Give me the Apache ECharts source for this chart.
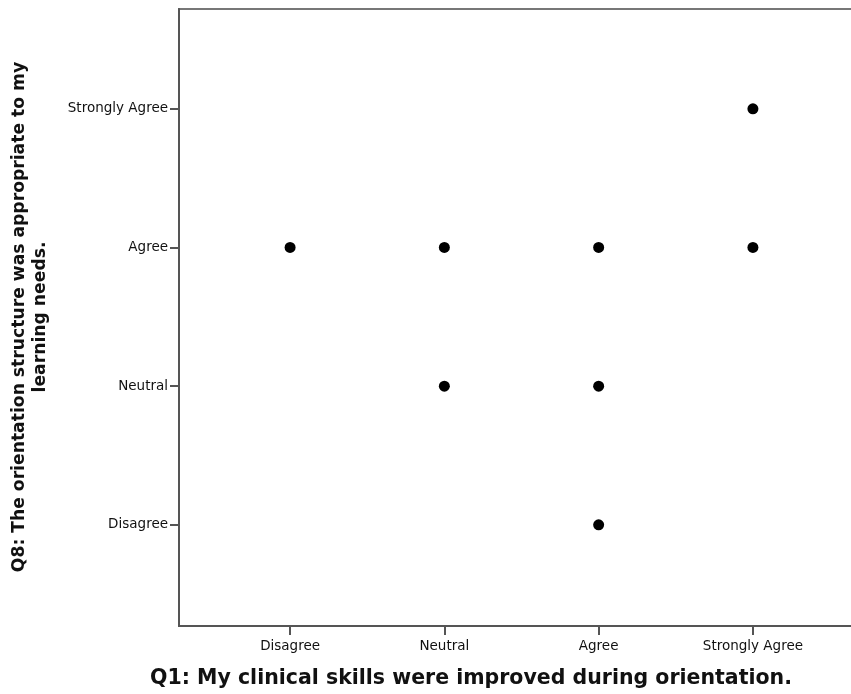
<!DOCTYPE html>
<html>
<head>
<meta charset="utf-8">
<script src="https://cdn.jsdelivr.net/npm/echarts@6/dist/echarts.min.js"></script>
<style>html,body{margin:0;padding:0;background:#fff;}#chart{width:851px;height:694px;}</style>
</head>
<body>
<div id="chart"></div>
<script>
const categories = ['Disagree', 'Neutral', 'Agree', 'Strongly Agree'];
const tickValues = [1, 2, 3, 4];
const q1Values = [4, 1, 2, 3, 4, 2, 3, 3];
const q8Values = [4, 3, 3, 3, 3, 2, 2, 1];
const xTitle = 'Q1: My clinical skills were improved during orientation.';
const yTitle = 'Q8: The orientation structure was appropriate to my\nlearning needs.';

const points = q1Values.map((v, i) => [v, q8Values[i]]);
const chart = echarts.init(document.getElementById('chart'));
const labelStyle = {color: '#111', fontFamily: 'DejaVu Sans', fontSize: 13.5};
chart.setOption({
  animation: false,
  backgroundColor: '#fff',
  grid: {left: 179, top: 9, width: 685, height: 617, outerBoundsMode: 'none', containLabel: false,
         show: true, borderColor: '#777', borderWidth: 2, backgroundColor: 'transparent'},
  xAxis: {
    type: 'value', min: 0.28, max: 4.72,
    splitLine: {show: false},
    axisLine: {lineStyle: {color: '#555', width: 2}},
    axisTick: {show: true, length: 9, customValues: tickValues, lineStyle: {color: '#555', width: 2}},
    axisLabel: Object.assign({customValues: tickValues, margin: 13, formatter: v => categories[Math.round(v) - 1]}, labelStyle)
  },
  yAxis: {
    type: 'value', min: 0.27, max: 4.72,
    splitLine: {show: false},
    axisLine: {lineStyle: {color: '#555', width: 2}},
    axisTick: {show: true, length: 9, customValues: tickValues, lineStyle: {color: '#555', width: 2}},
    axisLabel: Object.assign({customValues: tickValues, margin: 11, formatter: v => categories[Math.round(v) - 1]}, labelStyle)
  },
  series: [{
    type: 'scatter',
    data: points,
    symbol: 'circle',
    symbolSize: 11,
    itemStyle: {color: '#000', opacity: 1}
  }],
  graphic: [
    {type: 'text', position: [471, 679],
     style: {text: xTitle, fill: '#111', font: 'bold 20.5px "DejaVu Sans"', textAlign: 'center', textVerticalAlign: 'middle'}},
    {type: 'text', position: [30, 317], rotation: Math.PI / 2,
     style: {text: yTitle, fill: '#111', font: 'bold 17.2px "DejaVu Sans"', textAlign: 'center', textVerticalAlign: 'middle', lineHeight: 21}}
  ]
});
</script>
</body>
</html>
